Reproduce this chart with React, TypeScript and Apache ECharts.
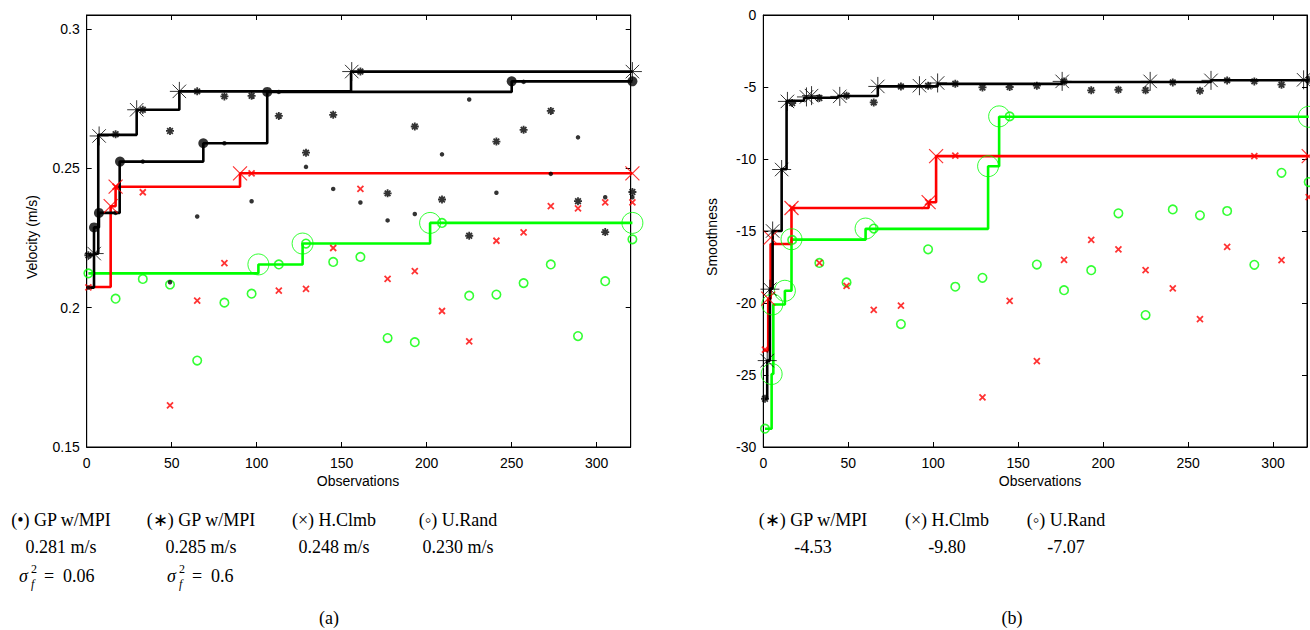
import React, { useEffect, useRef } from "react";
import * as echarts from "echarts";

// ---------- shared ----------
const obsX = [1, 17, 33, 49, 65, 81, 97, 113, 129, 145, 161, 177, 193, 209, 225, 241, 257, 273, 289, 305, 321];
const xTicks = [0, 50, 100, 150, 200, 250, 300];

// ---------- (a) Velocity ----------
const velGp06Obs = [0.2072, 0.234, 0.2524, 0.2091, 0.2327, 0.259, 0.2382, 0.2774, 0.2505, 0.2426, 0.2377, 0.2313, 0.2336, 0.255, 0.2747, 0.2412, 0.281, 0.248, 0.2611, 0.2396, 0.2396];
const velGp6Obs = [0.2188, 0.2622, 0.271, 0.2634, 0.2776, 0.2758, 0.276, 0.2688, 0.2556, 0.2692, 0.2847, 0.241, 0.265, 0.2388, 0.2258, 0.2596, 0.2638, 0.2706, 0.2382, 0.2271, 0.2415];
const velHcObs = [0.2073, 0.2434, 0.2414, 0.1649, 0.2025, 0.216, 0.2482, 0.2061, 0.2067, 0.2214, 0.2426, 0.2103, 0.2131, 0.1988, 0.1879, 0.224, 0.227, 0.2364, 0.2356, 0.2378, 0.2378];
const velUrObs = [0.2123, 0.2032, 0.2103, 0.2083, 0.181, 0.2018, 0.205, 0.2155, 0.223, 0.2164, 0.2182, 0.1891, 0.1876, 0.2304, 0.2043, 0.2047, 0.2088, 0.2155, 0.1898, 0.2095, 0.2245];

const velGp06BestX = [1, 4.3, 7.2, 19.4, 68.6, 106.2, 250, 321];
const velGp06BestY = [0.2072, 0.2288, 0.234, 0.2524, 0.259, 0.2774, 0.2812, 0.2812];
const velGp6BestX = [1, 4.4, 6.8, 29.4, 54.5, 155.5, 321];
const velGp6BestY = [0.2188, 0.2194, 0.262, 0.271, 0.2776, 0.2847, 0.2847];
const velHcBestX = [1, 14.1, 17, 90.2, 321];
const velHcBestY = [0.2074, 0.2364, 0.2434, 0.2482, 0.2482];
const velUrBestX = [1, 101, 127, 202, 321];
const velUrBestY = [0.2123, 0.2155, 0.223, 0.2304, 0.2304];

const velGp06MarkX = [4.3, 7.2, 19.6, 68.6, 106.2, 250, 321];
const velGp06MarkY = [0.2288, 0.234, 0.2524, 0.259, 0.2774, 0.2812, 0.2812];
const velGp6MarkX = [4.4, 7.3, 29.4, 54.5, 155.9, 321];
const velGp6MarkY = [0.2194, 0.2616, 0.271, 0.2776, 0.2847, 0.2847];
const velHcMarkX = [14.1, 17, 90.2, 321];
const velHcMarkY = [0.2364, 0.2434, 0.2482, 0.2482];
const velUrMarkX = [101, 127, 202, 321];
const velUrMarkY = [0.2155, 0.223, 0.2304, 0.2304];

const velTicks = [0.15, 0.2, 0.25, 0.3];

// ---------- (b) Smoothness ----------
const smGpObs = [-26.65, -6.11, -5.76, -5.6, -6.07, -4.96, -4.91, -4.77, -5.03, -5.0, -4.91, -4.61, -5.23, -5.19, -5.23, -4.68, -5.26, -4.54, -4.61, -4.84, -4.5];
const smHcObs = [-23.24, -13.4, -17.22, -18.81, -20.47, -20.19, -12.99, -9.76, -26.56, -19.85, -24.04, -17.0, -15.62, -16.27, -17.72, -18.99, -21.12, -16.11, -9.8, -17.03, -12.64];
const smUrObs = [-28.73, -15.62, -17.22, -18.57, -14.83, -21.46, -16.27, -18.87, -18.25, -7.04, -17.33, -19.11, -17.72, -13.77, -20.84, -13.5, -13.91, -13.61, -17.35, -10.96, -11.6];

const smGpBestX = [1, 2.3, 3.9, 5.5, 10.8, 13.7, 24, 44, 67.4, 102.6, 175.9, 263.5, 321];
const smGpBestY = [-26.65, -24.0, -19.0, -15.0, -10.7, -5.95, -5.75, -5.62, -4.96, -4.78, -4.65, -4.53, -4.53];
const smHcBestX = [0.4, 2.9, 4.3, 16.6, 97.3, 101.7, 321];
const smHcBestY = [-23.3, -19.7, -15.9, -13.4, -13.0, -9.8, -9.8];
const smUrBestX = [1, 4.9, 5.9, 12.7, 16.6, 60.2, 132.3, 138.8, 321];
const smUrBestY = [-28.73, -24.93, -20.1, -19.15, -15.6, -14.85, -10.5, -7.07, -7.07];

const smGpMarkX = [2.3, 3.9, 5.5, 10.8, 14.2, 25.4, 28.4, 45, 67.4, 91.9, 102.6, 175.9, 227.7, 263.5, 318];
const smGpMarkY = [-24.0, -19.04, -15.0, -10.73, -6.0, -5.69, -5.6, -5.65, -4.96, -4.91, -4.72, -4.61, -4.61, -4.54, -4.5];
const smHcMarkX = [2.9, 4.3, 16.6, 97.3, 101.7, 321];
const smHcMarkY = [-19.7, -15.46, -13.4, -13.0, -9.8, -9.8];
const smUrMarkX = [4.9, 5.3, 12.7, 16.6, 60.2, 132.3, 138.8, 321];
const smUrMarkY = [-24.93, -20.1, -19.15, -15.57, -14.83, -10.5, -7.04, -7.07];

const smTicks = [-30, -25, -20, -15, -10, -5, 0];

// ---------- styling ----------
const BLACK = "#000000";
const RED = "#ff0000";
const GREEN = "#00ff00";
const STAR = "path://M0,5L10,5M5,0L5,10M1.46,1.46L8.54,8.54M8.54,1.46L1.46,8.54";
const XMARK = "path://M0,0L10,10M10,0L0,10";
const SANS = "Liberation Sans, Arial, sans-serif";
const SERIF = "Liberation Serif, Times New Roman, serif";

const zip = (xs: number[], ys: number[]) => xs.map((x, i) => [x, ys[i]]);

function stepLine(idx: number, xs: number[], ys: number[], color: string, z = 2) {
  return {
    type: "line",
    xAxisIndex: idx,
    yAxisIndex: idx,
    data: zip(xs, ys),
    step: "end",
    showSymbol: false,
    symbol: "none",
    clip: false,
    silent: true,
    z,
    lineStyle: { color, width: 2.6 },
  };
}

function marks(idx: number, xs: number[], ys: number[], kind: string, big: boolean, color: string, z = 3) {
  let symbol = "circle";
  let size = 4;
  let itemStyle: any = { color };
  if (kind === "dot") {
    symbol = "circle";
    size = big ? 10 : 4.5;
    itemStyle = { color };
  } else if (kind === "star") {
    symbol = STAR;
    size = big ? 19 : 8;
    itemStyle = { color: "none", borderColor: color, borderWidth: big ? 1 : 1.8 };
  } else if (kind === "x") {
    symbol = XMARK;
    size = big ? 14 : 6;
    itemStyle = { color: "none", borderColor: color, borderWidth: big ? 1.2 : 1.8 };
  } else if (kind === "circle") {
    symbol = "circle";
    size = big ? 21 : 8.5;
    itemStyle = { color: "rgba(0,0,0,0)", borderColor: color, borderWidth: big ? 1 : 1.6 };
  }
  return {
    type: "scatter",
    xAxisIndex: idx,
    yAxisIndex: idx,
    data: zip(xs, ys),
    symbol,
    symbolSize: size,
    itemStyle,
    clip: false,
    silent: true,
    z,
  };
}

function axisPair(grid: number, min: number, max: number, interval: number, ticks: number[], dim: "x" | "y") {
  const common = {
    type: "value",
    gridIndex: grid,
    min,
    max,
    interval,
    splitLine: { show: false },
    axisLine: { show: true, onZero: false, lineStyle: { color: BLACK, width: 1 } },
    axisTick: { show: true, inside: true, length: 5, lineStyle: { color: BLACK, width: 1 } },
  };
  const label = {
    show: true,
    color: BLACK,
    fontFamily: SANS,
    fontSize: 14,
    margin: dim === "x" ? 9 : 7,
    showMaxLabel: true,
    showMinLabel: true,
    formatter: (v: number) => (ticks.some((t) => Math.abs(t - v) < 1e-9) ? String(+v.toFixed(4)) : ""),
  };
  return [
    { ...common, position: dim === "x" ? "bottom" : "left", axisLabel: label },
    { ...common, position: dim === "x" ? "top" : "right", axisLabel: { show: false } },
  ];
}

function txt(x: number, y: number, text: string, opts: any = {}) {
  return {
    type: "text",
    x,
    y,
    silent: true,
    style: {
      text,
      fill: BLACK,
      font: `${opts.italic ? "italic " : ""}${opts.size || 18}px ${opts.family || SERIF}`,
      align: opts.align || "center",
      verticalAlign: "middle",
    },
    rotation: opts.rotation || 0,
  };
}

function sigma(x: number, value: string) {
  return [
    txt(x, 576, "σ", { italic: true, align: "left" }),
    txt(x + 12, 569, "2", { size: 12, align: "left" }),
    txt(x + 12, 584, "f", { size: 12, italic: true, align: "left" }),
    txt(x + 25, 576, "=", { align: "left" }),
    txt(x + 44, 576, value, { align: "left" }),
  ];
}

export default function App() {
  const ref = useRef<HTMLDivElement>(null);
  useEffect(() => {
    if (!ref.current) return;
    const chart = echarts.init(ref.current, undefined, { renderer: "svg" });
    const [xa0, xa1] = axisPair(0, 0, 320, 50, xTicks, "x");
    const [xb0, xb1] = axisPair(1, 0, 320, 50, xTicks, "x");
    const [ya0, ya1] = axisPair(0, 0.15, 0.305, 0.05, velTicks, "y");
    const [yb0, yb1] = axisPair(1, -30, 0, 5, smTicks, "y");
    const option: any = {
      animation: false,
      backgroundColor: "#ffffff",
      grid: [
        { left: 86.7, top: 15, width: 544, height: 432, show: true, borderColor: BLACK, borderWidth: 1, containLabel: false },
        { left: 763.3, top: 15, width: 546, height: 432, show: true, borderColor: BLACK, borderWidth: 1, containLabel: false },
      ],
      xAxis: [xa0, xb0, xa1, xb1].map((a: any, i) => ({ ...a, gridIndex: i % 2 })),
      yAxis: [ya0, yb0, ya1, yb1].map((a: any, i) => ({ ...a, gridIndex: i % 2 })),
      series: [
        // (a)
        stepLine(0, velUrBestX, velUrBestY, GREEN),
        stepLine(0, velHcBestX, velHcBestY, RED),
        stepLine(0, velGp06BestX, velGp06BestY, BLACK),
        stepLine(0, velGp6BestX, velGp6BestY, BLACK),
        marks(0, obsX, velUrObs, "circle", false, GREEN),
        marks(0, obsX, velHcObs, "x", false, RED),
        marks(0, obsX, velGp6Obs, "star", false, BLACK),
        marks(0, obsX, velGp06Obs, "dot", false, BLACK),
        marks(0, velUrMarkX, velUrMarkY, "circle", true, GREEN),
        marks(0, velHcMarkX, velHcMarkY, "x", true, RED),
        marks(0, velGp6MarkX, velGp6MarkY, "star", true, BLACK),
        marks(0, velGp06MarkX, velGp06MarkY, "dot", true, BLACK),
        // (b)
        stepLine(1, smUrBestX, smUrBestY, GREEN),
        stepLine(1, smHcBestX, smHcBestY, RED),
        stepLine(1, smGpBestX, smGpBestY, BLACK),
        marks(1, obsX, smUrObs, "circle", false, GREEN),
        marks(1, obsX, smHcObs, "x", false, RED),
        marks(1, obsX, smGpObs, "star", false, BLACK),
        marks(1, smUrMarkX, smUrMarkY, "circle", true, GREEN),
        marks(1, smHcMarkX, smHcMarkY, "x", true, RED),
        marks(1, smGpMarkX, smGpMarkY, "star", true, BLACK),
      ],
      graphic: [
        txt(32, 237, "Velocity (m/s)", { family: SANS, size: 14, rotation: Math.PI / 2 }),
        txt(358, 481, "Observations", { family: SANS, size: 14 }),
        txt(712, 237, "Smoothness", { family: SANS, size: 14, rotation: Math.PI / 2 }),
        txt(1040, 481, "Observations", { family: SANS, size: 14 }),
        txt(61, 520, "(•) GP w/MPI"),
        txt(61, 547, "0.281 m/s"),
        ...sigma(19, "0.06"),
        txt(201, 520, "(∗) GP w/MPI"),
        txt(201, 547, "0.285 m/s"),
        ...sigma(167, "0.6"),
        txt(334, 520, "(×) H.Clmb"),
        txt(334, 547, "0.248 m/s"),
        txt(458, 520, "(◦) U.Rand"),
        txt(458, 547, "0.230 m/s"),
        txt(329, 618, "(a)"),
        txt(813, 520, "(∗) GP w/MPI"),
        txt(813, 547, "-4.53"),
        txt(947, 520, "(×) H.Clmb"),
        txt(947, 547, "-9.80"),
        txt(1066, 520, "(◦) U.Rand"),
        txt(1066, 547, "-7.07"),
        txt(1012, 618, "(b)"),
      ],
    };
    chart.setOption(option);
    return () => chart.dispose();
  }, []);
  return (
    <div
      ref={ref}
      style={{ position: "absolute", left: 0, top: 0, width: 1310, height: 630, background: "#fff" }}
    />
  );
}
